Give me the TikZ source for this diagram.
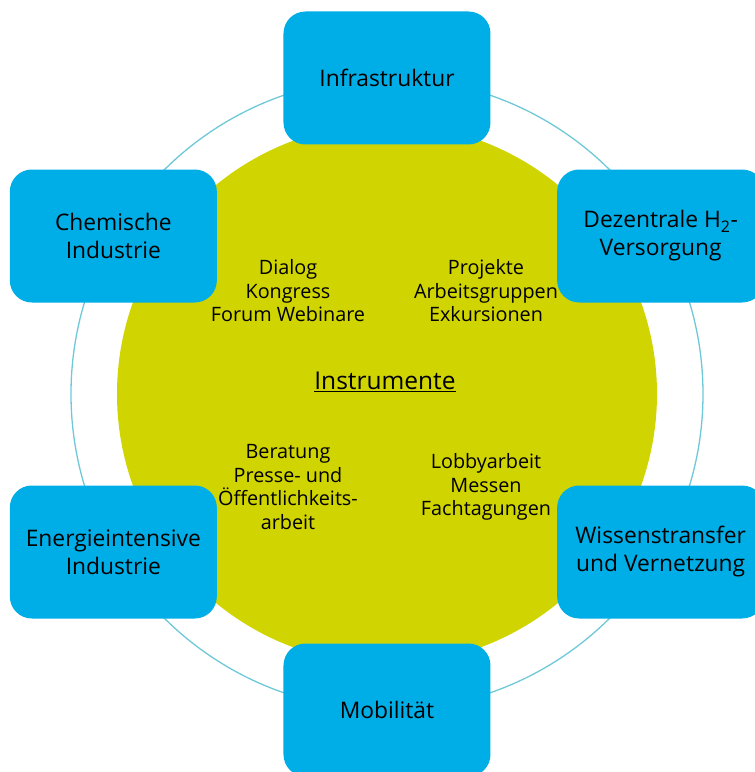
\documentclass[tikz,border=0pt]{standalone}
\usepackage{fontspec}
\setmainfont{Open Sans}
\usetikzlibrary{positioning}
\definecolor{boxblue}{RGB}{0,174,231}
\definecolor{limegreen}{RGB}{208,212,0}
\definecolor{ringline}{RGB}{110,200,215}
\tikzset{
    field/.style = {
        fill = boxblue,
        rounded corners = 22pt,
        minimum width = 207pt,
        minimum height = 133pt,
        align = center,
        font = \fontsize{22.8}{28}\selectfont,
        },
    tool/.style = {
        align = center,
        font = \fontsize{19.8}{23.5}\selectfont,
        },
    heading/.style = {
        font = \fontsize{24.5}{28}\selectfont,
        },
    core/.style = {
        circle,
        fill = limegreen,
        minimum size = 540pt,
        inner sep = 0pt,
        },
    ring/.style = {
        draw = ringline,
        line width = 1.3pt,
        },
}

\begin{document}
\begin{tikzpicture}[x=1pt,y=1pt]
    \useasboundingbox (-387,-378) rectangle (368,394);
    \clip (-387,-378) rectangle (368,394);
    \coordinate (M) at (0,0);

    \draw[ring] (M) circle (316);
    \node[core] (kern) at (M) {};

    \node[field] (infra) at (90:316) {Infrastruktur};
    \node[field] (dezentral) at (30:316) {Dezentrale H\textsubscript{2}-\\Versorgung};
    \node[field] (wissen) at (-30:316) {Wissenstransfer\\und Vernetzung};
    \node[field] (mobil) at (-90:316) {Mobilität};
    \node[field] (energie) at (-150:316) {Energieintensive\\Industrie};
    \node[field] (chemie) at (150:316) {Chemische\\Industrie};

    \node[heading] (instrumente) at (-2,12) {\underline{Instrumente}};
    \node[tool] (dialog) at (-99,103) {Dialog\\Kongress\\Forum Webinare};
    \node[tool] (projekte) at (99,103) {Projekte\\Arbeitsgruppen\\Exkursionen};
    \node[tool] (beratung) at (-99,-93) {Beratung\\Presse- und\\Öffentlichkeits-\\arbeit};
    \node[tool] (lobby) at (99,-93) {Lobbyarbeit\\Messen\\Fachtagungen};
\end{tikzpicture}
\end{document}
